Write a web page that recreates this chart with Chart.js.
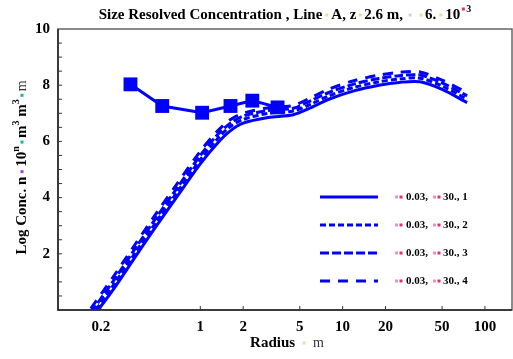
<!DOCTYPE html>
<html><head><meta charset="utf-8">
<script src="https://cdn.jsdelivr.net/npm/chart.js@4/dist/chart.umd.min.js"></script>
<style>html,body{margin:0;padding:0;background:#fff}#w{width:513px;height:359px}</style>
</head><body><div id="w"><canvas id="c" width="513" height="359"></canvas></div>
<script>
const radius = [0.17, 0.25, 0.35, 0.5, 0.7, 1.0, 1.3, 1.6, 2.0, 3.0, 4.5, 6, 8, 12, 18, 25, 35, 50, 75];
const line1 = [-0.35, 0.8, 1.9, 3.05, 4.1, 5.2, 5.9, 6.35, 6.65, 6.85, 6.95, 7.2, 7.5, 7.8, 8.0, 8.1, 8.12, 7.85, 7.38];
const line2 = [-0.25, 0.95, 2.05, 3.2, 4.25, 5.35, 6.05, 6.5, 6.78, 7.0, 7.08, 7.33, 7.62, 7.92, 8.12, 8.22, 8.25, 7.97, 7.5];
const line3 = [-0.1, 1.1, 2.2, 3.35, 4.4, 5.5, 6.2, 6.62, 6.9, 7.1, 7.18, 7.45, 7.74, 8.04, 8.24, 8.34, 8.36, 8.08, 7.62];
const line4 = [0.05, 1.25, 2.35, 3.5, 4.55, 5.65, 6.33, 6.75, 7.0, 7.2, 7.28, 7.56, 7.86, 8.16, 8.36, 8.46, 8.47, 8.18, 7.74];
const measRadius = [0.323, 0.54, 1.03, 1.63, 2.32, 3.49];
const measConc = [8.03, 7.26, 7.02, 7.26, 7.45, 7.21];
const xTickValues = [0.2, 1, 2, 5, 10, 20, 50, 100];
const yTickLabels = [2, 4, 6, 8, 10];
const legendLabels = ['1', '2', '3', '4'];

const BLUE = '#0000ff';
const SERIF = '"Liberation Serif", "DejaVu Serif", serif';
const lineSets = [line1, line2, line3, line4];
const dashes = [[], [6, 3], [9, 3], [10, 8]];

function pts(xs, ys) { return xs.map((x, i) => ({x: x, y: ys[i]})); }

const datasets = lineSets.map((ys, i) => ({
  label: legendLabels[i], data: pts(radius, ys), showLine: true, borderColor: BLUE,
  borderWidth: 3, borderDash: dashes[i], pointRadius: 0, tension: 0.3, fill: false
}));
datasets.push({
  label: 'measured', data: pts(measRadius, measConc), showLine: true, borderColor: BLUE,
  backgroundColor: BLUE, borderWidth: 3, pointStyle: 'rect', pointRadius: 9.8,
  pointBorderWidth: 0, tension: 0
});

function drawSegs(ctx, segs, cx, cy) {
  let total = 0;
  segs.forEach(s => {
    if (s.sq) { s.w = s.gap || 6; }
    else { ctx.font = s.font; s.w = ctx.measureText(s.t).width; }
    total += s.w;
  });
  let x = cx - total / 2;
  ctx.textBaseline = 'middle';
  ctx.textAlign = 'left';
  segs.forEach(s => {
    if (s.sq) {
      ctx.fillStyle = s.sq;
      ctx.fillRect(x + (s.w - 3) / 2, cy - 1.5 + (s.dy || 0), 3, 3);
    } else {
      ctx.font = s.font; ctx.fillStyle = s.color || '#000';
      ctx.fillText(s.t, x, cy + (s.dy || 0));
    }
    x += s.w;
  });
}

const deco = {
  id: 'deco',
  afterDraw(chart) {
    const ctx = chart.ctx, a = chart.chartArea, xs = chart.scales.x, ys = chart.scales.y;
    ctx.save();
    ctx.strokeStyle = '#666'; ctx.lineWidth = 1.5;
    ctx.strokeRect(a.left, a.top, a.right - a.left, a.bottom - a.top);
    ctx.strokeStyle = '#222';
    ctx.beginPath(); ctx.moveTo(a.left, a.top); ctx.lineTo(a.left, a.bottom); ctx.lineTo(a.right, a.bottom); ctx.stroke();
    ctx.lineWidth = 1; ctx.strokeStyle = '#333';
    xTickValues.forEach(v => { const px = xs.getPixelForValue(v); ctx.beginPath(); ctx.moveTo(px, a.bottom); ctx.lineTo(px, a.bottom - 4); ctx.stroke(); });
    for (let v = 0.5; v < 10; v += 0.5) { const py = ys.getPixelForValue(v); ctx.beginPath(); ctx.moveTo(a.left, py); ctx.lineTo(a.left + 4, py); ctx.stroke(); }
    // title
    const tb = 'bold 15px ' + SERIF, ts = 'bold 10px ' + SERIF;
    const Y = '#e8e0a0', L = '#dcc8ee', R = '#e0306a';
    drawSegs(ctx, [
      {t: 'Size Resolved Concentration , Line', font: tb}, {sq: Y, gap: 9}, {t: 'A, z', font: tb}, {sq: Y, gap: 8},
      {t: '2.6 m,', font: tb}, {sq: L, gap: 14}, {sq: Y, gap: 8}, {t: '6.', font: tb}, {sq: Y, gap: 9}, {t: '10', font: tb},
      {sq: R, gap: 6, dy: -6}, {t: '3', font: ts, dy: -6}
    ], (a.left + a.right) / 2, 15);
    // x title
    drawSegs(ctx, [{t: 'Radius', font: 'bold 15px ' + SERIF}, {sq: Y, gap: 18}, {t: 'm', font: '14px ' + SERIF, color: '#333'}], (a.left + a.right) / 2 + 2, 343);
    // y title
    ctx.save(); ctx.translate(22, (a.top + a.bottom) / 2 - 2); ctx.rotate(-Math.PI / 2);
    const yb = 'bold 15px ' + SERIF, ysup = 'bold 10px ' + SERIF;
    drawSegs(ctx, [
      {t: 'Log Conc. n', font: yb}, {sq: '#a040e0', gap: 10}, {t: '10', font: yb}, {t: 'n', font: ysup, dy: -6},
      {sq: '#20b0a0', gap: 8}, {t: 'm', font: yb}, {t: '3', font: ysup, dy: -6}, {t: ' m', font: yb}, {t: '3', font: ysup, dy: -6},
      {sq: '#20b0a0', gap: 8}, {t: 'm', font: '14px ' + SERIF, color: '#333'}
    ], 0, 0);
    ctx.restore();
    // legend
    const lf = 'bold 11px ' + SERIF;
    legendLabels.forEach((lab, i) => {
      const y = 197 + i * 28;
      ctx.strokeStyle = BLUE; ctx.lineWidth = 3; ctx.lineCap = 'butt'; ctx.setLineDash(dashes[i]);
      ctx.beginPath(); ctx.moveTo(320, y); ctx.lineTo(378, y); ctx.stroke(); ctx.setLineDash([]);
      ctx.fillStyle = '#f090c8'; ctx.fillRect(395, y - 1.5, 3, 3);
      ctx.fillStyle = '#e0306a'; ctx.fillRect(399.5, y - 1.5, 3, 3);
      ctx.font = lf; ctx.fillStyle = '#000'; ctx.textBaseline = 'middle'; ctx.textAlign = 'left';
      ctx.fillText('0.03,', 406, y);
      ctx.fillStyle = '#f090c8'; ctx.fillRect(433, y - 1.5, 3, 3);
      ctx.fillStyle = '#e0306a'; ctx.fillRect(437.5, y - 1.5, 3, 3);
      ctx.fillStyle = '#000'; ctx.fillText('30., ' + lab, 443, y);
    });
    ctx.restore();
  }
};

new Chart(document.getElementById('c'), {
  type: 'scatter',
  data: {datasets: datasets},
  options: {
    responsive: false, animation: false, devicePixelRatio: 1,
    layout: {autoPadding: false, padding: {top: 29, right: 1, left: 0, bottom: 0}},
    plugins: {legend: {display: false}, title: {display: false}, tooltip: {enabled: false}},
    scales: {
      x: {
        type: 'logarithmic', min: 0.1, max: 155, border: {display: false},
        grid: {display: false, drawTicks: false},
        afterBuildTicks: s => { s.ticks = xTickValues.map(v => ({value: v})); },
        afterFit: s => { s.height = 49; s.paddingLeft = 0; s.paddingRight = 0; },
        ticks: {font: {family: SERIF, size: 15, weight: 'bold'}, color: '#000', padding: 8, maxRotation: 0, autoSkip: false,
          callback: v => String(v)}
      },
      y: {
        min: 0, max: 10, border: {display: false},
        grid: {display: false, drawTicks: false},
        afterBuildTicks: s => { s.ticks = yTickLabels.map(v => ({value: v})); },
        afterFit: s => { s.width = 58; s.paddingTop = 0; s.paddingBottom = 0; },
        ticks: {font: {family: SERIF, size: 15, weight: 'bold'}, color: '#000', padding: 8, callback: v => String(v)}
      }
    }
  },
  plugins: [deco]
});
</script></body></html>
